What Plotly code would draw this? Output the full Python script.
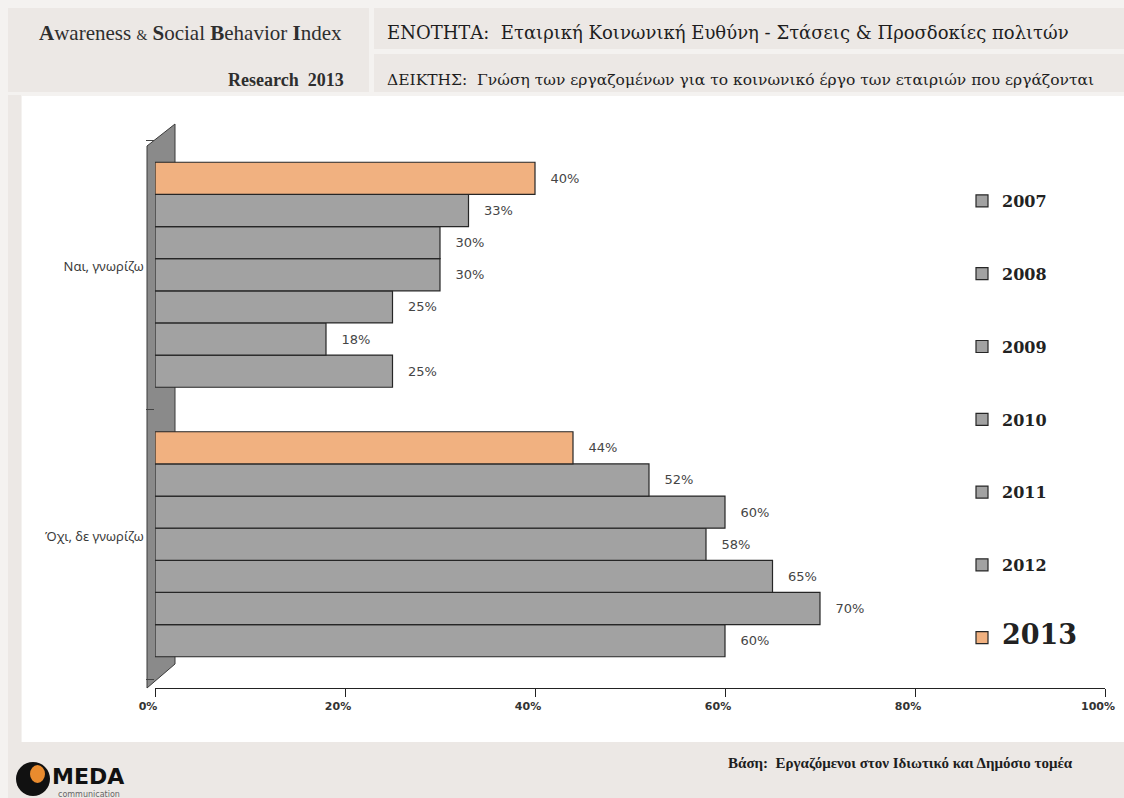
import plotly.graph_objects as go

W, H = 1124, 798

categories = ["Ναι, γνωρίζω", "Όχι, δε γνωρίζω"]
years = ["2007", "2008", "2009", "2010", "2011", "2012", "2013"]
yes_values = [25, 18, 25, 30, 30, 33, 40]
no_values = [60, 70, 65, 58, 60, 52, 44]
x_ticks = [0, 20, 40, 60, 80, 100]
x_tick_labels = ["0%", "20%", "40%", "60%", "80%", "100%"]

GREY = "#A2A2A2"
ORANGE = "#F1B180"


def fx(p):
    return p / W


def fy(p):
    return 1 - p / H


fig = go.Figure()
for i, yr in enumerate(years):
    is_last = yr == "2013"
    name = f"<span style='font-size:27px'><b>{yr}</b></span>" if is_last else f"<b>{yr}</b>"
    fig.add_trace(go.Bar(
        x=[yes_values[i], no_values[i]],
        y=categories,
        orientation="h",
        name=name,
        legendgroup=yr,
        marker=dict(color=ORANGE if is_last else GREY,
                    line=dict(color="#262626", width=1.2)),
        texttemplate="   %{x:.0f}%",
        textposition="outside",
        textfont=dict(family="DejaVu Sans", size=13, color="#454545"),
        cliponaxis=False,
    ))

shapes = [
    dict(type="rect", xref="paper", yref="paper", x0=fx(8), x1=fx(369), y0=fy(92), y1=fy(8),
         fillcolor="#ECE8E5", line=dict(width=0), layer="below"),
    dict(type="rect", xref="paper", yref="paper", x0=fx(374), x1=fx(1124), y0=fy(49), y1=fy(8),
         fillcolor="#ECE8E5", line=dict(width=0), layer="below"),
    dict(type="rect", xref="paper", yref="paper", x0=fx(374), x1=fx(1124), y0=fy(92), y1=fy(54),
         fillcolor="#ECE8E5", line=dict(width=0), layer="below"),
    dict(type="rect", xref="paper", yref="paper", x0=fx(8), x1=fx(21), y0=fy(798), y1=fy(95),
         fillcolor="#ECE8E5", line=dict(width=0), layer="below"),
    dict(type="rect", xref="paper", yref="paper", x0=fx(8), x1=fx(1124), y0=fy(798), y1=fy(742),
         fillcolor="#ECE8E5", line=dict(width=0), layer="below"),
    dict(type="rect", xref="paper", yref="paper", x0=fx(22), x1=fx(1124), y0=fy(742), y1=fy(96),
         fillcolor="#FFFFFF", line=dict(width=0), layer="below"),
    dict(type="path", xref="paper", yref="paper",
         path=(f"M {fx(147)},{fy(146)} L {fx(175)},{fy(124)} L {fx(175)},{fy(664)} "
               f"L {fx(147)},{fy(688)} Z"),
         fillcolor="#8A8A8A", line=dict(color="#3A3A3A", width=1), layer="below"),
    dict(type="circle", xref="paper", yref="paper", x0=fx(16), x1=fx(50), y0=fy(796), y1=fy(762),
         fillcolor="#111111", line=dict(width=0)),
    dict(type="circle", xref="paper", yref="paper", x0=fx(30), x1=fx(45), y0=fy(783), y1=fy(765),
         fillcolor="#E98B2E", line=dict(width=0)),
]

annotations = [
    dict(text="<b>A</b>wareness <span style='font-size:14px'>&</span> <b>S</b>ocial <b>B</b>ehavior <b>I</b>ndex",
         xref="paper", yref="paper", showarrow=False,
         x=fx(37), y=fy(33), xanchor="left", yanchor="middle",
         font=dict(family="Liberation Serif", size=21, color="#2E2E2E")),
    dict(text="<b>Research  2013</b>", xref="paper", yref="paper", showarrow=False,
         x=fx(346), y=fy(80), xanchor="right", yanchor="middle",
         font=dict(family="Liberation Serif", size=18, color="#2E2E2E")),
    dict(text="ΕΝΟΤΗΤΑ:  Εταιρική Κοινωνική Ευθύνη - Στάσεις & Προσδοκίες πολιτών",
         xref="paper", yref="paper", showarrow=False,
         x=fx(385), y=fy(33), xanchor="left", yanchor="middle",
         font=dict(family="DejaVu Serif", size=18, color="#1E1E1E")),
    dict(text="ΔΕΙΚΤΗΣ:  Γνώση των εργαζομένων για το κοινωνικό έργο των εταιριών που εργάζονται",
         xref="paper", yref="paper", showarrow=False,
         x=fx(385), y=fy(80), xanchor="left", yanchor="middle",
         font=dict(family="DejaVu Serif", size=15.5, color="#1E1E1E")),
    dict(text="<b>Βάση:  Εργαζόμενοι στον Ιδιωτικό και Δημόσιο τομέα</b>",
         xref="paper", yref="paper", showarrow=False,
         x=fx(1075), y=fy(763), xanchor="right", yanchor="middle",
         font=dict(family="Liberation Serif", size=15, color="#1E1E1E")),
    dict(text="<b>MEDA</b>", xref="paper", yref="paper", showarrow=False,
         x=fx(50), y=fy(776), xanchor="left", yanchor="middle",
         font=dict(family="DejaVu Sans", size=22, color="#111111")),
    dict(text="communication", xref="paper", yref="paper", showarrow=False,
         x=fx(56), y=fy(794), xanchor="left", yanchor="middle",
         font=dict(family="DejaVu Sans", size=8, color="#666666")),
]

fig.update_layout(
    width=W, height=H,
    margin=dict(l=0, r=0, t=0, b=0, autoexpand=False),
    paper_bgcolor="#F4F2F0",
    plot_bgcolor="rgba(0,0,0,0)",
    barmode="group",
    bargap=0.165,
    bargroupgap=0,
    showlegend=True,
    legend=dict(x=fx(962), y=fy(184), xanchor="left", yanchor="top",
                bgcolor="rgba(0,0,0,0)", tracegroupgap=49,
                font=dict(family="DejaVu Serif", size=16, color="#222222"),
                traceorder="grouped"),
    xaxis=dict(domain=[fx(155), fx(1105)], range=[0, 100], tickvals=x_ticks,
               ticktext=x_tick_labels, ticks="outside", ticklen=8, tickcolor="#222222",
               ticklabelshift=-7,
               showline=True, linecolor="#222222", linewidth=1, showgrid=False,
               zeroline=False, anchor="free", position=fy(688), fixedrange=True,
               tickfont=dict(family="DejaVu Sans", size=11, color="#333333", weight="bold")),
    yaxis=dict(domain=[fy(679), fy(140)], type="category", categoryorder="array",
               categoryarray=categories[::-1], range=[-0.5, len(categories) - 0.5],
               tickson="boundaries", ticks="outside", ticklen=8, tickcolor="#444444",
               ticklabelshift=-8, ticklabelstandoff=10,
               showline=False, showgrid=False, zeroline=False, anchor="x",
               fixedrange=True,
               tickfont=dict(family="Noto Sans", size=13, color="#3A3A3A")),
    shapes=shapes,
    annotations=annotations,
)

fig.write_html("out.html", post_script="document.body.style.margin='0';document.body.style.overflow='hidden';",
               config={"displayModeBar": False})
